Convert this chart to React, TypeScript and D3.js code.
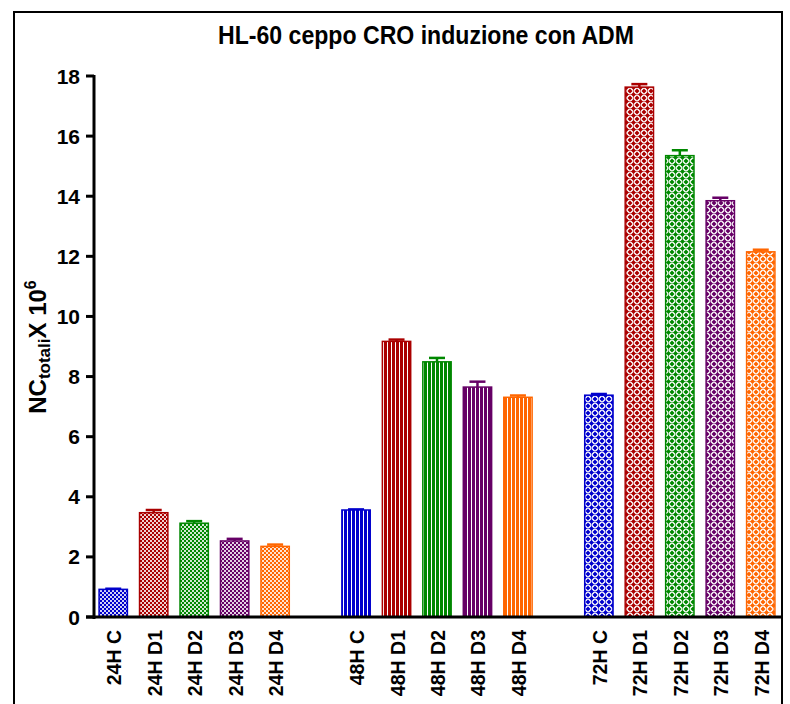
import React from "react";
import * as d3 from "d3";

const title = "HL-60 ceppo CRO induzione con ADM";
const timepoints = ["24H", "48H", "72H"];
const treatments = ["C", "D1", "D2", "D3", "D4"];
const values24 = [0.92, 3.47, 3.12, 2.53, 2.35];
const err24 = [0.02, 0.09, 0.07, 0.07, 0.06];
const values48 = [3.56, 9.17, 8.49, 7.65, 7.31];
const err48 = [0.02, 0.06, 0.13, 0.18, 0.06];
const values72 = [7.38, 17.63, 15.35, 13.85, 12.15];
const err72 = [0.04, 0.1, 0.18, 0.1, 0.07];
const yTicks = [0, 2, 4, 6, 8, 10, 12, 14, 16, 18];
const colors = ["#0000CC", "#AA0000", "#008800", "#660066", "#FF6600"];
const patternKinds = ["check", "stripe", "lattice"];

const W = 790;
const H = 704;

export default function App() {
  const allValues = [values24, values48, values72];
  const allErrs = [err24, err48, err72];
  const slots: string[] = [];
  timepoints.forEach((t, gi) => {
    treatments.forEach((tr) => slots.push(`${t} ${tr}`));
    if (gi < timepoints.length - 1) slots.push(`gap${gi}`);
  });
  const x = d3.scaleBand<string>().domain(slots).range([93, 781]).paddingInner(0.3).paddingOuter(0.15);
  const y = d3.scaleLinear().domain([0, 18]).range([617, 76]);
  const bw = x.bandwidth();

  const bars: any[] = [];
  timepoints.forEach((t, gi) => {
    treatments.forEach((tr, ti) => {
      bars.push({ key: `${t} ${tr}`, v: allValues[gi][ti], e: allErrs[gi][ti], c: colors[ti], gi, ti });
    });
  });

  const patternDefs: any[] = [];
  colors.forEach((c, ci) => {
    patternDefs.push(
      <pattern key={`check${ci}`} id={`check${ci}`} width={4} height={4} patternUnits="userSpaceOnUse">
        <rect width={4} height={4} fill={c} opacity={0.18} />
        <rect x={0} y={0} width={2} height={2} fill={c} />
        <rect x={2} y={2} width={2} height={2} fill={c} />
      </pattern>
    );
    patternDefs.push(
      <pattern key={`stripe${ci}`} id={`stripe${ci}`} width={4} height={4} patternUnits="userSpaceOnUse">
        <rect width={4} height={4} fill="#fff" />
        <rect x={0} y={0} width={3} height={4} fill={c} />
      </pattern>
    );
    patternDefs.push(
      <pattern key={`lattice${ci}`} id={`lattice${ci}`} width={7} height={7} patternUnits="userSpaceOnUse">
        <rect width={7} height={7} fill="#fff" />
        <path d="M3.5,1 L6,3.5 L3.5,6 L1,3.5 Z" fill={c} />
        <path d="M0,-2.5 L2.5,0 L0,2.5 L-2.5,0 Z M7,-2.5 L9.5,0 L7,2.5 L4.5,0 Z M0,4.5 L2.5,7 L0,9.5 L-2.5,7 Z M7,4.5 L9.5,7 L7,9.5 L4.5,7 Z" fill={c} />
        <rect x={3} y={0} width={1} height={7} fill={c} opacity={0.5} />
        <rect x={0} y={3} width={7} height={1} fill={c} opacity={0.5} />
      </pattern>
    );
  });

  const font = "'Liberation Sans', Arial, Helvetica, sans-serif";

  return (
    <svg width={W} height={H} style={{ position: "absolute", left: 0, top: 0, background: "#fff" }} fontFamily={font}>
      <defs>{patternDefs}</defs>
      <rect x={0} y={0} width={W} height={H} fill="#fff" />
      {/* frame */}
      <line x1={13} y1={12} x2={782} y2={12} stroke="#000" strokeWidth={2} />
      <line x1={14} y1={11} x2={14} y2={H} stroke="#000" strokeWidth={2} />
      <line x1={782} y1={11} x2={782} y2={H} stroke="#000" strokeWidth={2} />

      <text x={426} y={44} textAnchor="middle" fontSize={26} fontWeight="bold" textLength={416} lengthAdjust="spacingAndGlyphs">
        {title}
      </text>

      {/* bars */}
      {bars.map((b) => {
        const x0 = x(b.key)!;
        const yt = y(b.v);
        const ye = y(b.v + b.e);
        const cx = x0 + bw / 2;
        return (
          <g key={b.key}>
            <line x1={cx} x2={cx} y1={yt} y2={ye} stroke={b.c} strokeWidth={2.5} />
            <line x1={cx - 8} x2={cx + 8} y1={ye} y2={ye} stroke={b.c} strokeWidth={2.5} />
            <rect x={x0} y={yt} width={bw} height={y(0) - yt} fill={`url(#${patternKinds[b.gi]}${b.ti})`} stroke={b.c} strokeWidth={1.5} />
          </g>
        );
      })}

      {/* y axis */}
      <line x1={94} x2={94} y1={75} y2={619} stroke="#000" strokeWidth={3} />
      {yTicks.map((t) => (
        <g key={t}>
          <line x1={86} x2={94} y1={y(t)} y2={y(t)} stroke="#000" strokeWidth={3} />
          <text x={80} y={y(t) + 7.5} textAnchor="end" fontSize={21} fontWeight="bold">
            {t}
          </text>
        </g>
      ))}
      {/* x axis */}
      <line x1={86} x2={781} y1={617} y2={617} stroke="#000" strokeWidth={3} />
      {bars.map((b) => {
        const cx = x(b.key)! + bw / 2;
        return (
          <text key={b.key} transform={`translate(${cx + 8},630) rotate(-90)`} textAnchor="end" fontSize={19.5} fontWeight="bold">
            {b.key}
          </text>
        );
      })}

      {/* y label */}
      <text transform="translate(46,347) rotate(-90)" textAnchor="middle" fontSize={24} fontWeight="bold">
        <tspan>NC</tspan>
        <tspan fontSize={17} dy={4}>totali</tspan>
        <tspan dy={-4}>X 10</tspan>
        <tspan fontSize={16} dy={-10}>6</tspan>
      </text>
    </svg>
  );
}
